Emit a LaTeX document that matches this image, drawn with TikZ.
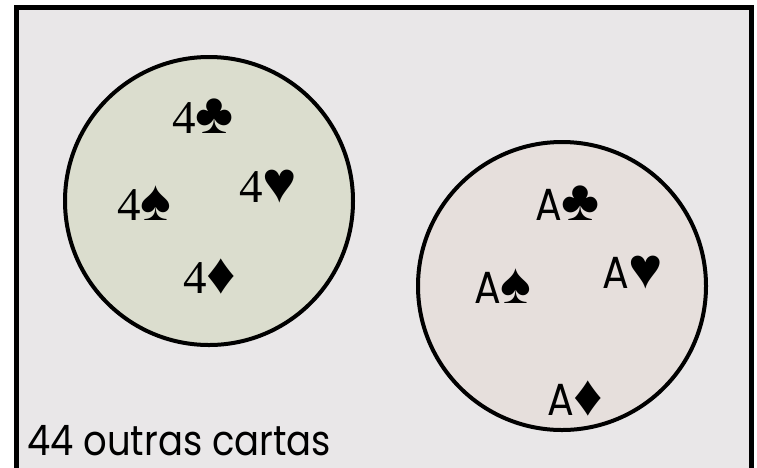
\documentclass[tikz,border=0pt]{standalone}
\usepackage{fontspec}
\setmainfont{Poppins}
\newfontfamily\gotica[FakeStretch=0.88]{Poppins}
\newfontfamily\cartaserif{Liberation Serif}
\usetikzlibrary{positioning}
\definecolor{VennFundo}{RGB}{233,231,232}
\definecolor{VennQuatro}{RGB}{219,221,206}
\definecolor{VennAs}{RGB}{230,223,220}
\newcommand{\naipe}[1]{{\cartaserif\fontsize{58}{58}\selectfont #1}}
\begin{document}
\begin{tikzpicture}[x=1pt,y=-1pt,
  conjunto/.style={circle, draw=black, line width=4pt, minimum size=288pt, inner sep=0pt},
  quatro/.style={anchor=base west, inner sep=0pt, font=\cartaserif\fontsize{47}{47}\selectfont},
  as/.style={anchor=base west, inner sep=0pt, font=\gotica\fontsize{45}{45}\selectfont}]
\useasboundingbox (0,0) rectangle (757,467);
% universo
\draw[fill=VennFundo, line width=5pt] (16.5,7.5) rectangle (751.5,490);
% os dois conjuntos
\node[conjunto, fill=VennQuatro] (quatros) at (209,201) {};
\node[conjunto, fill=VennAs] (ases) at (562,286) {};
% cartas
\node[quatro] (q-paus) at (172,133) {4\naipe{♣}};
\node[quatro] (q-copas) at (239,202) {4\naipe{♥}};
\node[quatro] (q-espadas) at (117,220) {4\naipe{♠}};
\node[quatro] (q-ouros) at (183,293) {4\naipe{♦}};
\node[as] (a-paus) at (535,220) {A\naipe{♣}};
\node[as] (a-copas) at (602,288) {A\naipe{♥}};
\node[as] (a-espadas) at (474,303) {A\naipe{♠}};
\node[as] (a-ouros) at (547,415) {A\naipe{♦}};
\node[anchor=base west, inner sep=0pt, font=\gotica\fontsize{42}{42}\selectfont] (resto) at (27,455) {44 outras cartas};
\end{tikzpicture}
\end{document}
